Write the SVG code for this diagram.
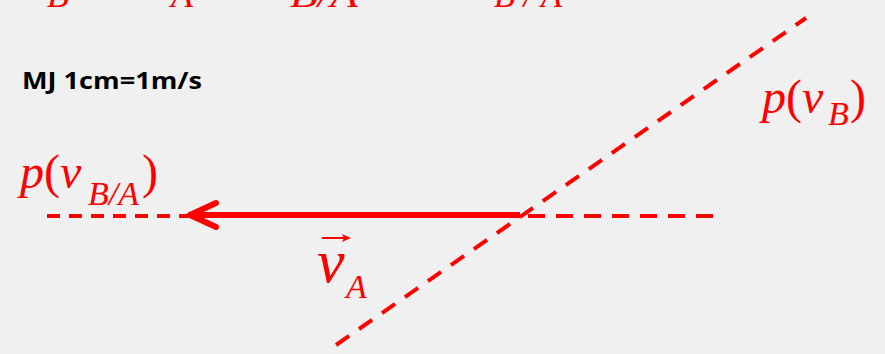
<svg xmlns="http://www.w3.org/2000/svg" width="885" height="354" viewBox="0 0 885 354">
<style>
.m{font-family:"Liberation Serif","Times New Roman",serif;font-style:italic;fill:#ff0000}
.r{font-family:"Liberation Serif","Times New Roman",serif;fill:#ff0000}
.d{stroke:#ff0000;stroke-width:4;fill:none}
</style>
<rect width="885" height="354" fill="#f0f0f0"/>
<g id="top-row">
<text class="m" x="47" y="7" font-size="36">B</text>
<text class="m" x="171" y="7" font-size="36">A</text>
<text class="m" x="290" y="7" font-size="36" textLength="68" lengthAdjust="spacingAndGlyphs">B/A</text>
<text class="m" x="494" y="7" font-size="36" textLength="68" lengthAdjust="spacingAndGlyphs">B / A</text>
</g>
<g id="scale-note">
<text x="22" y="89" font-family="'Open Sans','Liberation Sans',sans-serif" font-weight="bold" font-size="23" fill="#000" textLength="180" lengthAdjust="spacingAndGlyphs">MJ 1cm=1m/s</text>
</g>
<g id="connectors">
<line class="d" x1="336" y1="345" x2="806" y2="18" stroke-dasharray="16 12"/>
<line class="d" x1="47" y1="216" x2="190" y2="216" stroke-dasharray="13 9"/>
<line class="d" x1="520" y1="216" x2="718" y2="216" stroke-dasharray="17 11" stroke-dashoffset="-8"/>
<line x1="520" y1="215" x2="192" y2="215" stroke="#ff0000" stroke-width="6"/>
<polyline points="216,203 190,215 216,227" fill="none" stroke="#ff0000" stroke-width="6" stroke-linecap="round" stroke-linejoin="round"/>
</g>
<g id="label-pvBA">
<text class="m" x="20" y="188" font-size="48">p<tspan class="r" font-style="normal">(</tspan>v</text>
<text class="m" x="88" y="205" font-size="34">B/A</text>
<text class="r" x="142" y="188" font-size="48">)</text>
</g>
<g id="label-pvB">
<text class="m" x="762" y="113" font-size="48">p<tspan class="r" font-style="normal">(</tspan>v</text>
<text class="m" x="828" y="125" font-size="34">B</text>
<text class="r" x="850" y="113" font-size="48">)</text>
</g>
<g id="label-vA">
<text class="m" x="317" y="282" font-size="62">v</text>
<text class="m" x="346" y="298" font-size="34">A</text>
<line x1="322" y1="238" x2="346" y2="238" stroke="#ff0000" stroke-width="2"/>
<polygon points="351,238 342,234 344,238 342,242" fill="#ff0000"/>
</g>
</svg>
